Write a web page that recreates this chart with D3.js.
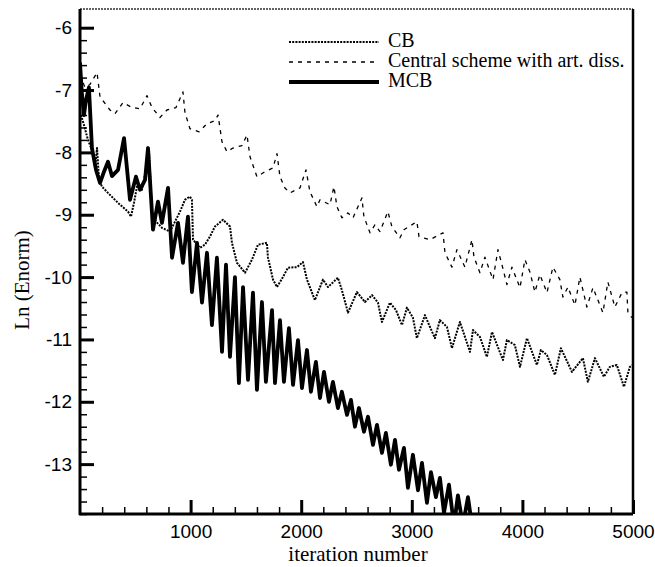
<!DOCTYPE html>
<html>
<head>
<meta charset="utf-8">
<script src="https://cdn.jsdelivr.net/npm/d3@7"></script>
<style>
  body { margin: 0; background: #fff; }
  svg { display: block; }
  .tick text { font-family: "Liberation Sans", Arial, sans-serif; font-size: 19px; fill: #000; }
  .titulo { font-family: "Liberation Serif", "Times New Roman", serif; font-size: 21px; fill: #000; }
  .legenda { font-family: "Liberation Serif", "Times New Roman", serif; font-size: 20px; fill: #000; }
</style>
</head>
<body>
<svg width="655" height="567"></svg>
<script>
// Curva CB: [iteração, Ln(Enorm)]
var cb = [
  [0,-7.35],[36,-7.56],[72,-7.80],[108,-7.96],[136,-8.25],[154,-7.93],[172,-8.44],[199,-8.55],
  [253,-8.65],[344,-8.81],[434,-8.95],[461,-9.03],[488,-8.81],[515,-8.55],[560,-8.60],[597,-8.28],
  [624,-7.96],[651,-9.00],[687,-9.11],[741,-9.21],[814,-9.27],[859,-9.11],[904,-8.95],[949,-8.76],
  [994,-8.71],[1012,-8.76],[1022,-9.40],[1085,-9.53],[1130,-9.48],[1175,-9.35],[1220,-9.19],[1293,-9.08],
  [1356,-9.19],[1374,-9.45],[1419,-9.77],[1492,-9.93],[1555,-9.72],[1609,-9.48],[1690,-9.45],[1699,-9.68],
  [1745,-10.04],[1781,-10.16],[1835,-10.00],[1880,-9.85],[1962,-9.84],[2016,-9.76],[2052,-10.04],[2124,-10.37],
  [2197,-10.04],[2242,-10.16],[2332,-10.01],[2368,-10.21],[2423,-10.57],[2504,-10.24],[2576,-10.40],[2640,-10.29],
  [2694,-10.41],[2730,-10.72],[2802,-10.41],[2857,-10.53],[2911,-10.77],[2956,-10.49],[3010,-10.65],[3046,-10.98],
  [3119,-10.61],[3164,-10.80],[3209,-10.98],[3254,-10.69],[3318,-10.80],[3363,-11.14],[3435,-10.72],[3526,-11.20],
  [3553,-10.85],[3616,-10.96],[3679,-11.28],[3725,-10.88],[3824,-11.33],[3860,-11.01],[3932,-11.09],[3978,-11.44],
  [4041,-10.98],[4131,-11.41],[4167,-11.17],[4222,-11.25],[4294,-11.57],[4348,-11.14],[4448,-11.52],[4547,-11.30],
  [4592,-11.68],[4656,-11.30],[4737,-11.60],[4791,-11.44],[4854,-11.41],[4918,-11.76],[4972,-11.44],[5000,-11.41]
];

// Esquema central com dissipação artificial
var central = [
  [0,-6.75],[18,-6.83],[45,-6.96],[90,-6.91],[154,-6.72],[181,-7.11],[271,-7.32],[316,-7.38],
  [389,-7.20],[470,-7.28],[542,-7.30],[606,-7.09],[651,-7.28],[723,-7.44],[786,-7.32],[868,-7.28],
  [931,-7.03],[949,-7.36],[994,-7.62],[1076,-7.67],[1148,-7.54],[1220,-7.49],[1248,-7.40],[1284,-7.83],
  [1329,-7.99],[1383,-7.93],[1464,-7.89],[1510,-7.72],[1537,-8.07],[1600,-8.39],[1672,-8.31],[1745,-8.25],
  [1781,-8.02],[1808,-8.39],[1853,-8.57],[1898,-8.65],[1989,-8.57],[2043,-8.28],[2079,-8.63],[2142,-8.87],
  [2170,-8.76],[2260,-8.84],[2296,-8.55],[2323,-8.87],[2368,-9.05],[2423,-8.97],[2468,-9.05],[2549,-8.73],
  [2567,-9.03],[2622,-9.29],[2667,-9.16],[2712,-9.27],[2784,-8.95],[2820,-9.19],[2893,-9.37],[2929,-9.24],
  [3046,-9.11],[3065,-9.35],[3164,-9.40],[3282,-9.29],[3300,-9.61],[3363,-9.84],[3408,-9.56],[3480,-9.84],
  [3544,-9.40],[3562,-9.68],[3616,-9.93],[3661,-9.68],[3734,-10.04],[3779,-9.56],[3815,-9.80],[3860,-10.12],
  [3905,-9.84],[3978,-10.17],[4023,-9.72],[4068,-9.92],[4113,-10.24],[4158,-9.96],[4222,-10.25],[4276,-9.84],
  [4339,-10.04],[4366,-10.32],[4412,-10.16],[4475,-10.45],[4520,-10.00],[4583,-10.48],[4638,-10.17],[4728,-10.57],
  [4773,-10.08],[4836,-10.48],[4900,-10.25],[4945,-10.24],[4954,-10.57],[4990,-10.65]
];

// Curva MCB
var mcb = [
  [0,-6.56],[18,-7.08],[36,-7.40],[54,-7.16],[81,-6.96],[108,-7.93],[145,-8.28],[181,-8.49],
  [217,-8.31],[253,-8.15],[289,-8.38],[344,-8.28],[398,-7.77],[452,-8.76],[506,-8.39],[542,-8.60],
  [588,-8.44],[615,-7.93],[660,-9.24],[705,-8.79],[741,-9.13],[796,-8.57],[832,-9.69],[886,-9.13],
  [931,-9.77],[976,-9.03],[1012,-10.24],[1058,-9.45],[1103,-10.41],[1148,-9.61],[1193,-10.77],[1238,-9.69],
  [1284,-11.20],[1320,-9.80],[1356,-11.28],[1401,-10.00],[1437,-11.70],[1474,-10.16],[1519,-11.65],[1564,-10.25],
  [1600,-11.81],[1645,-10.40],[1681,-11.68],[1736,-10.53],[1763,-11.70],[1808,-10.69],[1844,-11.68],[1889,-10.82],
  [1926,-11.73],[1971,-11.01],[2007,-11.78],[2052,-11.17],[2088,-11.84],[2133,-11.36],[2170,-11.94],[2206,-11.52],
  [2251,-12.00],[2287,-11.68],[2332,-12.10],[2368,-11.84],[2414,-12.21],[2450,-11.97],[2486,-12.40],[2522,-12.10],
  [2567,-12.48],[2604,-12.24],[2649,-12.69],[2685,-12.37],[2730,-12.82],[2766,-12.50],[2811,-13.01],[2848,-12.61],
  [2884,-13.09],[2929,-12.74],[2965,-13.38],[3010,-12.85],[3056,-13.42],[3092,-12.98],[3137,-13.62],[3173,-13.13],
  [3218,-13.53],[3254,-13.22],[3291,-13.78],[3336,-13.33],[3381,-13.98],[3417,-13.50],[3462,-13.98],[3508,-13.53],
  [3544,-13.98]
];

var ticksX = [1000, 2000, 3000, 4000, 5000];
var ticksY = [-6, -7, -8, -9, -10, -11, -12, -13];
var legendas = ["CB", "Central scheme with art. diss.", "MCB"];

var svg = d3.select("svg");
var esq = 80, dir = 633, topo = 9, base = 514;

var x = d3.scaleLinear().domain([0, 5000]).range([esq, dir]);
var y = d3.scaleLinear().domain([-5.7, -13.8]).range([topo, base]);

svg.append("clipPath").attr("id", "area")
  .append("rect").attr("x", esq).attr("y", topo).attr("width", dir - esq).attr("height", base - topo);

// estilos das curvas
var estilos = [
  {dados: cb, largura: 2, tracos: "2,1.2"},
  {dados: central, largura: 1.3, tracos: "4,5"},
  {dados: mcb, largura: 3.8, tracos: null}
];

var linha = d3.line().x(function(d){return x(d[0]);}).y(function(d){return y(d[1]);});

var curvas = svg.append("g").attr("clip-path", "url(#area)");
estilos.forEach(function(e){
  curvas.append("path")
    .datum(e.dados)
    .attr("d", linha)
    .attr("fill", "none")
    .attr("stroke", "#000")
    .attr("stroke-width", e.largura)
    .attr("stroke-linejoin", "round")
    .attr("stroke-dasharray", e.tracos);
});

// moldura
svg.append("line").attr("x1", esq).attr("x2", dir).attr("y1", topo).attr("y2", topo)
  .attr("stroke", "#333").attr("stroke-width", 1.5).attr("stroke-dasharray", "2,1");
svg.append("line").attr("x1", dir).attr("x2", dir).attr("y1", topo).attr("y2", base)
  .attr("stroke", "#000").attr("stroke-width", 2.5);

// ticks menores
var menoresX = d3.range(200, 5000, 200).filter(function(v){return v % 1000 != 0;});
var menoresY = d3.range(-6, -13.81, -0.2).filter(function(v){return Math.abs(v - Math.round(v)) > 0.01;});

svg.append("g").attr("transform", "translate(0," + base + ")")
  .call(d3.axisBottom(x).tickValues(menoresX).tickSize(-7).tickFormat(""))
  .call(function(g){ g.select(".domain").remove(); g.selectAll("line").attr("stroke-width", 1.5); });
svg.append("g").attr("transform", "translate(" + esq + ",0)")
  .call(d3.axisLeft(y).tickValues(menoresY).tickSize(-7).tickFormat(""))
  .call(function(g){ g.select(".domain").remove(); g.selectAll("line").attr("stroke-width", 1.5); });

// eixos principais (rótulos com hífen, como no original)
var rotulo = function(d){ return String(d); };
svg.append("g").attr("transform", "translate(0," + base + ")")
  .call(d3.axisBottom(x).tickValues(ticksX).tickSize(-14).tickFormat(rotulo))
  .call(function(g){
    g.select(".domain").attr("stroke-width", 3).attr("d", "M" + (esq - 1) + ",0H" + dir);
    g.selectAll("line").attr("stroke-width", 3);
    g.selectAll("text").attr("dy", 0).attr("y", 24);
  });
svg.append("g").attr("transform", "translate(" + esq + ",0)")
  .call(d3.axisLeft(y).tickValues(ticksY).tickSize(-14).tickFormat(rotulo))
  .call(function(g){
    g.select(".domain").attr("stroke-width", 3).attr("d", "M0," + topo + "V" + (base + 1));
    g.selectAll("line").attr("stroke-width", 3);
    g.selectAll("text").attr("x", -8);
  });

// títulos dos eixos
svg.append("text").attr("class", "titulo")
  .attr("x", 358).attr("y", 561).attr("text-anchor", "middle")
  .text("iteration number");
svg.append("text").attr("class", "titulo")
  .attr("transform", "translate(29,280) rotate(-90)").attr("text-anchor", "middle")
  .text("Ln (Enorm)");

// legenda
var leg = svg.append("g");
legendas.forEach(function(t, i){
  var yy = 42 + i * 20;
  leg.append("line")
    .attr("x1", 289).attr("x2", 379).attr("y1", yy).attr("y2", yy)
    .attr("stroke", "#000")
    .attr("stroke-width", estilos[i].largura)
    .attr("stroke-dasharray", estilos[i].tracos);
  leg.append("text").attr("class", "legenda")
    .attr("x", 388).attr("y", yy + 5).text(t);
});
</script>
</body>
</html>
